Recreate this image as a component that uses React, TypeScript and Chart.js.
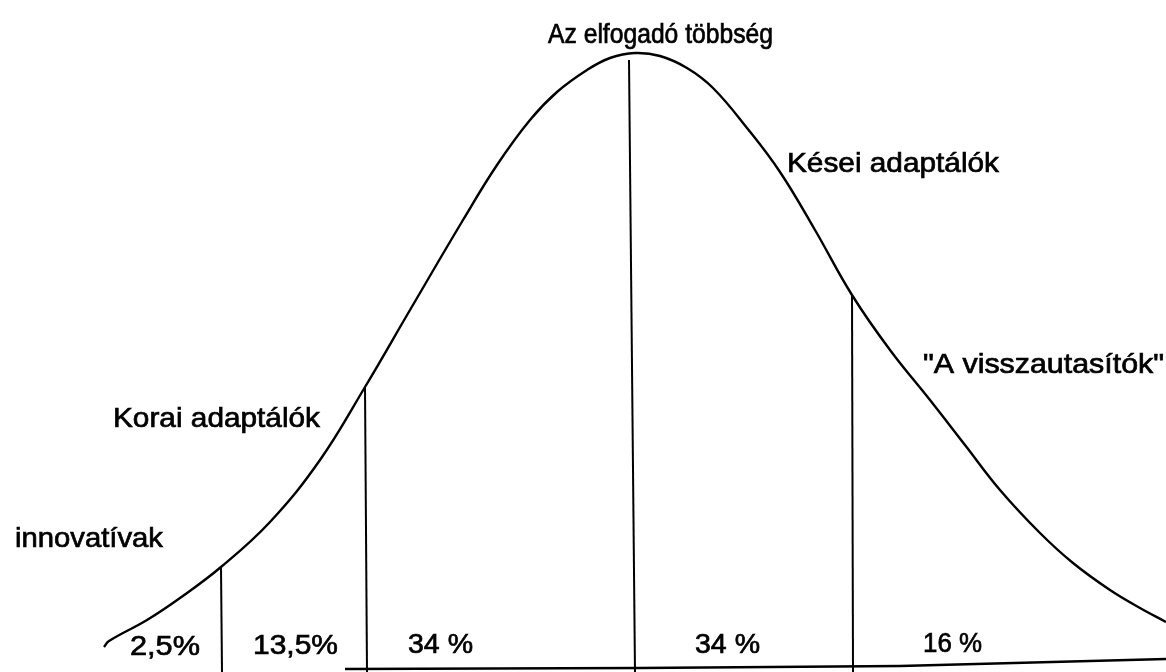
import React, { useEffect, useRef } from "react";
import { Chart, registerables } from "chart.js";

Chart.register(...registerables);

// Diffusion-of-innovation curve (x: time, y: number of adopters)
const curveX = [104, 109, 147, 180, 221, 270, 320, 365, 410, 463, 497, 530, 557, 587, 610, 635, 660, 687, 713, 747, 780, 815, 852, 890, 930, 965, 1000, 1040, 1073, 1110, 1140, 1166];
const curveY = [23, 29, 50, 72, 103, 148, 210, 283, 360, 450, 505, 550, 578, 600, 612, 617, 614, 602, 582, 542, 498, 440, 375, 320, 270, 225, 180, 137, 107, 80, 62, 48];

// Group dividers
const dividerTopX = [221, 365, 629, 852];
const dividerBottomX = [222, 367, 635, 853];
const dividerTop = [103, 283, 610, 375];
const axisFloor = -2;

// Base line
const baseX = [345, 640, 900, 1166];
const baseY = [1, 2, 4, 11];

// Group names and shares
const groupNames = ["Az elfogadó többség", "Kései adaptálók", "\"A visszautasítók\"", "Korai adaptálók", "innovatívak"];
const shareLabels = ["2,5%", "13,5%", "34 %", "34 %", "16 %"];

type Lbl = { text: string; x: number; y: number; w: number };

const labels: Lbl[] = [
  { text: groupNames[0], x: 548, y: 627, w: 225 },
  { text: groupNames[1], x: 787, y: 498, w: 212 },
  { text: groupNames[2], x: 923, y: 297, w: 241 },
  { text: groupNames[3], x: 113, y: 243, w: 207 },
  { text: groupNames[4], x: 15, y: 123, w: 148 },
  { text: shareLabels[0], x: 130, y: 15, w: 70 },
  { text: shareLabels[1], x: 253, y: 16, w: 85 },
  { text: shareLabels[2], x: 408, y: 17, w: 65 },
  { text: shareLabels[3], x: 695, y: 17, w: 65 },
  { text: shareLabels[4], x: 923, y: 18, w: 59 },
];

const textPlugin = {
  id: "annotText",
  afterDatasetsDraw(chart: any) {
    const ctx = chart.ctx as CanvasRenderingContext2D;
    const xs = chart.scales.x;
    const ys = chart.scales.y;
    ctx.save();
    ctx.fillStyle = "#000";
    ctx.strokeStyle = "#000";
    ctx.lineWidth = 0.7;
    ctx.font = "28px 'Liberation Sans', Arial, sans-serif";
    ctx.textBaseline = "alphabetic";
    ctx.textAlign = "left";
    for (const l of labels) {
      const px = xs.getPixelForValue(l.x);
      const py = ys.getPixelForValue(l.y);
      const pw = xs.getPixelForValue(l.x + l.w) - px;
      const nat = ctx.measureText(l.text).width;
      ctx.save();
      ctx.translate(px, py);
      ctx.scale(pw / nat, 1);
      ctx.fillText(l.text, 0, 0);
      ctx.strokeText(l.text, 0, 0);
      ctx.restore();
    }
    ctx.restore();
  },
};

export default function App() {
  const ref = useRef<HTMLCanvasElement | null>(null);
  useEffect(() => {
    document.body.style.margin = "0";
    const canvas = ref.current;
    if (!canvas) return;
    const line = { borderColor: "#000", pointRadius: 0, fill: false, clip: false as any };
    const datasets: any[] = [
      {
        ...line,
        data: curveX.map((x, i) => ({ x, y: curveY[i] })),
        borderWidth: 2.4,
        tension: 0.4,
      },
      ...dividerTopX.map((x, i) => ({
        ...line,
        data: [
          { x, y: dividerTop[i] },
          { x: dividerBottomX[i], y: axisFloor },
        ],
        borderWidth: 2,
        tension: 0,
      })),
      {
        ...line,
        data: baseX.map((x, i) => ({ x, y: baseY[i] })),
        borderWidth: 2.5,
        tension: 0,
      },
    ];
    const chart = new Chart(canvas, {
      type: "line",
      data: { datasets },
      options: {
        responsive: false,
        animation: false,
        devicePixelRatio: 1,
        layout: { padding: 0 },
        plugins: { legend: { display: false }, tooltip: { enabled: false } },
        scales: {
          x: { type: "linear", min: 0, max: 1166, display: false },
          y: { type: "linear", min: axisFloor, max: 670, display: false },
        },
      },
      plugins: [textPlugin],
    });
    return () => chart.destroy();
  }, []);
  return (
    <div style={{ width: 1166, height: 672, background: "#fff" }}>
      <canvas ref={ref} width={1166} height={672} style={{ display: "block" }} />
    </div>
  );
}
